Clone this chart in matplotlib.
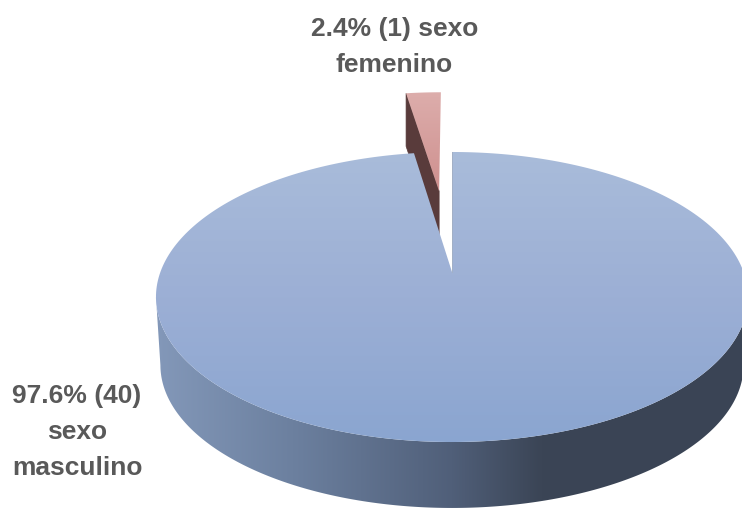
import matplotlib
matplotlib.use("Agg")
import matplotlib.pyplot as plt
import numpy as np
from matplotlib.colors import LinearSegmentedColormap
from matplotlib.patches import Polygon

# Donnees du graphique
categories = ["sexo femenino", "sexo masculino"]
cuentas = [1, 40]
etiquetas = ["2.4% (1) sexo\nfemenino", "97.6% (40)\nsexo\nmasculino"]

# Degrades
degrade_bleu = ["#A9BCDA", "#9CAFD5", "#8AA5D0"]
degrade_cote = [(0.0, "#8499BA"), (0.25, "#6B7F9E"), (0.51, "#505F79"), (0.66, "#3B4556"), (1.0, "#3A4455")]
degrade_rose = ["#DDAEAC", "#CD8D8C"]
couleur_ombre = "#593B3B"
couleur_texte = "#595959"

# Perspective du disque : sommet (452, 272), bords haut 152, bas 442, gauche 156
CX, CY = 452, 272
A, B, K = 140.7, 291.6, 0.1724
PROF, ECHELLE = 68.5, 0.985


def projette(u, v, prof=0.0, echelle=1.0):
    w = 1 + K * v
    return CX + echelle * B * u / w, CY + prof - echelle * A * v / w


def arc(t1, t2, prof=0.0, echelle=1.0, du=0.0, dv=0.0):
    t = np.radians(np.linspace(t1, t2, 300))
    x, y = projette(np.sin(t) + du, np.cos(t) + dv, prof, echelle)
    return np.column_stack([x, y])


def degrade(ax, couleurs, clip, vertical=True, etendue=None):
    cmap = LinearSegmentedColormap.from_list("d", couleurs)
    g = np.linspace(0, 1, 256)
    g = g[:, None] if vertical else g[None, :]
    im = ax.imshow(g, cmap=cmap, extent=etendue, aspect="auto", interpolation="bilinear")
    patch = Polygon(clip, closed=True, transform=ax.transData, fc="none", ec="none")
    ax.add_patch(patch)
    im.set_clip_path(patch)
    return im


fig = plt.figure(figsize=(7.42, 5.08), dpi=100)
ax = fig.add_axes([0, 0, 1, 1])

angle = 360 * cuentas[0] / sum(cuentas)

# Part detachee (rose)
expl = 0.64
mi = np.radians(-angle / 2)
du, dv = expl * np.sin(mi), expl * np.cos(mi)
dessus = arc(-angle, 0, du=du, dv=dv)
sommet = np.array(projette(du, dv))
prof_rose = 53
bord = dessus[0]
ombre = np.array([sommet, bord, bord + [0, prof_rose], sommet + [0, prof_rose]])
# zorder negatif : les images sont a 0, la part bleue doit cacher l'ombre
ax.add_patch(Polygon(ombre, closed=True, fc=couleur_ombre, ec=couleur_ombre, lw=0.5, zorder=-1))
rose = np.vstack([[sommet], dessus])
degrade(ax, degrade_rose, rose, etendue=(400, 450, 200, 90))

# Grande part (bleue)
tl = np.degrees(np.arccos(-K))
haut = arc(tl, 360 - tl)
bas = arc(tl, 360 - tl, PROF, ECHELLE)
cote = np.vstack([haut, bas[::-1]])
degrade(ax, degrade_cote, cote, vertical=False, etendue=(150, 742, 520, 280))
contour = arc(0, 360 - angle)
dessus_bleu = np.vstack([[projette(0, 0)], contour])
degrade(ax, degrade_bleu, dessus_bleu, etendue=(150, 750, 445, 150))

# Fine arete a droite de la fente
ax.plot([CX, CX], [CY, contour[0, 1]], color="#A3B0C6", lw=0.7)

# Textes
ax.text(394.5, 47, etiquetas[0], ha="center", va="center", fontsize=19, fontweight="bold",
        family="Liberation Sans", color=couleur_texte, linespacing=1.62)
ax.text(77, 432, etiquetas[1], ha="center", va="center", fontsize=19, fontweight="bold",
        family="Liberation Sans", color=couleur_texte, linespacing=1.62)

ax.set_xlim(0, 742)
ax.set_ylim(508, 0)
ax.axis("off")
fig.savefig("out.png", dpi=100)
